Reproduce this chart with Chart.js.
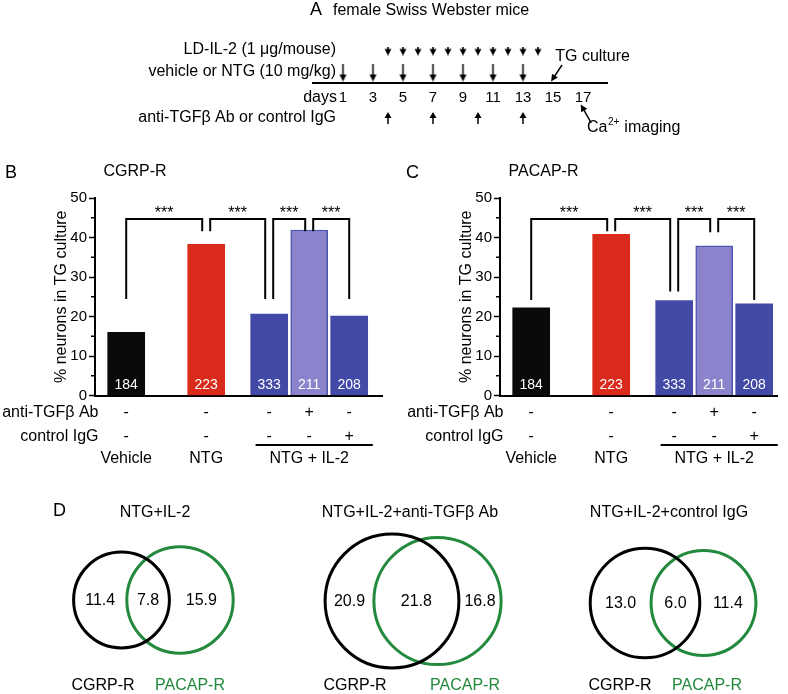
<!DOCTYPE html>
<html><head><meta charset="utf-8">
<script src="https://cdn.jsdelivr.net/npm/chart.js@4.4.1/dist/chart.umd.min.js"></script>
<style>
html,body{margin:0;padding:0;background:#fff;}
body{width:788px;height:694px;position:relative;overflow:hidden;}
.p{position:absolute;}
canvas{display:block;}
</style></head><body>
<div class="p" style="left:0;top:0;width:788px;height:140px"><canvas id="ca" width="788" height="140"></canvas></div>
<div class="p" style="left:0;top:150px;width:394px;height:325px"><canvas id="cb" width="394" height="325"></canvas></div>
<div class="p" style="left:394px;top:150px;width:394px;height:325px"><canvas id="cc" width="394" height="325"></canvas></div>
<div class="p" style="left:-80px;top:410px;width:948px;height:364px"><canvas id="cd" width="948" height="364"></canvas></div>
<script>
// ---------------- DATA ----------------
// Panel A: treatment schedule (days)
const dayTicks = [1, 3, 5, 7, 9, 11, 13, 15, 17];
const ldIl2Days = [4, 5, 6, 7, 8, 9, 10, 11, 12, 13, 14];
const ntgDays = [1, 3, 5, 7, 9, 11, 13];
const antiTgfDays = [4, 7, 10, 13];
const tgCultureDay = 15;
const caImagingDay = 17;

// Panels B and C
const groupLabels = ['Vehicle', 'NTG', 'NTG + IL-2'];
const cellCounts = ['184', '223', '333', '211', '208'];
const antiTgfRow = ['-', '-', '-', '+', '-'];
const controlIgGRow = ['-', '-', '-', '-', '+'];
const cgrpValues = [16.0, 38.3, 20.6, 41.9, 20.1];
const pacapValues = [22.2, 40.8, 24.0, 37.9, 23.2];
const yTickValues = [0, 10, 20, 30, 40, 50];
const sigPairs = [[0, 1], [1, 2], [2, 3], [3, 4]];
const sigLabels = ['***', '***', '***', '***'];
const sigTop = 44.7;
const cgrpLegEnds = [24.4, 41.6, 24.4, 41.6, 24.4];
const pacapLegEnds = [24.2, 41.6, 26.3, 41.3, 24.2];

// Panel D: Venn percentages
const vennTitles = ['NTG+IL-2', 'NTG+IL-2+anti-TGF\u03b2 Ab', 'NTG+IL-2+control IgG'];
const vennCgrpOnly = [11.4, 20.9, 13.0];
const vennBoth = [7.8, 21.8, 6.0];
const vennPacapOnly = [15.9, 16.8, 11.4];

// ---------------- LAYOUT / STYLE ----------------
const F = '"Liberation Sans", Arial, Helvetica, sans-serif';
Chart.defaults.font.family = F;
Chart.defaults.color = '#000';
Chart.defaults.animation = false;
const GREEN = '#23893d';
const barColors = ['#0a0a0a', '#da2a1c', '#4249a6', '#8b84cc', '#4249a6'];
const barBorders = ['#0a0a0a', '#da2a1c', '#4249a6', '#5055b0', '#4249a6'];
const barBorderW = [0, 0, 0, 1.5, 0];
const barSlot = [0.78, 2.78, 4.355, 5.355, 6.355]; // bar positions on x (slot units)
const legOff = 0.1;

function txt(ctx, s, x, y, o = {}) {
  ctx.save();
  ctx.font = `${o.weight || 'normal'} ${o.size || 16}px ${F}`;
  ctx.fillStyle = o.color || '#000';
  ctx.textAlign = o.align || 'left';
  ctx.textBaseline = o.base || 'middle';
  ctx.fillText(s, x, y);
  ctx.restore();
}
function arrow(ctx, x1, y1, x2, y2, hl = 7, hw = 3.5) {
  const a = Math.atan2(y2 - y1, x2 - x1);
  ctx.save();
  ctx.strokeStyle = '#000'; ctx.fillStyle = '#000'; ctx.lineWidth = 1.5;
  ctx.beginPath(); ctx.moveTo(x1, y1);
  ctx.lineTo(x2 - Math.cos(a) * hl * 0.8, y2 - Math.sin(a) * hl * 0.8); ctx.stroke();
  ctx.beginPath(); ctx.moveTo(x2, y2);
  ctx.lineTo(x2 - Math.cos(a) * hl + Math.sin(a) * hw, y2 - Math.sin(a) * hl - Math.cos(a) * hw);
  ctx.lineTo(x2 - Math.cos(a) * hl - Math.sin(a) * hw, y2 - Math.sin(a) * hl + Math.cos(a) * hw);
  ctx.closePath(); ctx.fill();
  ctx.restore();
}
function markImg(w, h, draw) {
  const c = document.createElement('canvas'); c.width = w; c.height = h;
  const g = c.getContext('2d'); g.fillStyle = '#000'; g.strokeStyle = '#000'; draw(g); return c;
}
const imgDown = markImg(9, 18, g => { g.lineWidth = 1.5; g.beginPath(); g.moveTo(4.5, 0); g.lineTo(4.5, 12); g.stroke();
  g.beginPath(); g.moveTo(1, 11); g.lineTo(8, 11); g.lineTo(4.5, 18); g.closePath(); g.fill(); });
const imgLd = markImg(8, 9, g => { g.lineWidth = 1.5; g.beginPath(); g.moveTo(4, 0); g.lineTo(4, 3); g.stroke();
  g.beginPath(); g.moveTo(0.5, 2.5); g.lineTo(7.5, 2.5); g.lineTo(4, 9); g.closePath(); g.fill(); });
const imgUp = markImg(8, 12, g => { g.lineWidth = 1.5; g.beginPath(); g.moveTo(4, 5); g.lineTo(4, 12); g.stroke();
  g.beginPath(); g.moveTo(4, 0); g.lineTo(0.5, 6); g.lineTo(7.5, 6); g.closePath(); g.fill(); });

// ---------------- PANEL A ----------------
const ROW = { ld: 3.2, ntg: 1.05, anti: -3.5 };
new Chart(document.getElementById('ca'), {
  type: 'scatter',
  data: { datasets: [
    { data: ldIl2Days.map(d => ({ x: d, y: ROW.ld })), pointStyle: imgLd, pointRadius: 5 },
    { data: ntgDays.map(d => ({ x: d, y: ROW.ntg })), pointStyle: imgDown, pointRadius: 5 },
    { data: antiTgfDays.map(d => ({ x: d, y: ROW.anti })), pointStyle: imgUp, pointRadius: 5 }
  ] },
  options: {
    responsive: false, events: [],
    layout: { padding: { left: 313, right: 181, top: 40, bottom: 10 } },
    plugins: { legend: { display: false }, tooltip: { enabled: false } },
    scales: {
      x: { type: 'linear', min: -1, max: 18.6, position: { y: 0 },
        afterBuildTicks: s => { s.ticks = dayTicks.map(v => ({ value: v })); },
        ticks: { autoSkip: false, maxRotation: 0, font: { size: 15 }, color: '#000', padding: 6 },
        grid: { display: false, drawTicks: false },
        border: { display: true, width: 2, color: '#000' } },
      y: { type: 'linear', min: -4.7, max: 4.3, display: false }
    }
  },
  plugins: [{
    id: 'schedText',
    afterDraw(chart) {
      const { ctx, scales: { x, y } } = chart;
      txt(ctx, 'A', 310, 10, { size: 18 });
      txt(ctx, 'female Swiss Webster mice', 333, 11);
      txt(ctx, 'LD-IL-2 (1 \u03bcg/mouse)', 336, y.getPixelForValue(ROW.ld) - 1.5, { align: 'right' });
      txt(ctx, 'vehicle or NTG (10 mg/kg)', 336, y.getPixelForValue(ROW.ntg) - 1, { align: 'right' });
      txt(ctx, 'anti-TGF\u03b2 Ab or control IgG', 336, y.getPixelForValue(ROW.anti), { align: 'right' });
      txt(ctx, 'days', 337, y.getPixelForValue(0) + 15, { align: 'right' });
      // TG culture
      txt(ctx, 'TG culture', x.getPixelForValue(tgCultureDay + 0.15), y.getPixelForValue(2.6));
      arrow(ctx, x.getPixelForValue(tgCultureDay + 0.6), y.getPixelForValue(1.8), x.getPixelForValue(tgCultureDay - 0.13), y.getPixelForValue(0.15));
      // Ca2+ imaging
      const cx = x.getPixelForValue(caImagingDay + 0.27), cy = y.getPixelForValue(-4.5);
      ctx.save(); ctx.font = `16px ${F}`; const w1 = ctx.measureText('Ca').width; ctx.font = `10px ${F}`; const w2 = ctx.measureText('2+').width; ctx.restore();
      txt(ctx, 'Ca', cx, cy);
      txt(ctx, '2+', cx + w1 + 0.5, cy - 6, { size: 10 });
      txt(ctx, ' imaging', cx + w1 + w2 + 1, cy);
      arrow(ctx, x.getPixelForValue(caImagingDay + 0.55), y.getPixelForValue(-4.0), x.getPixelForValue(caImagingDay - 0.15), y.getPixelForValue(-2.15));
    }
  }]
});

// ---------------- PANELS B, C ----------------
function legX(i, side) {
  const asLeft = sigPairs.some(p => p[0] === i), asRight = sigPairs.some(p => p[1] === i);
  if (asLeft && asRight) return barSlot[i] + (side === 'L' ? legOff : -legOff);
  return barSlot[i];
}
function barPanel(id, values, legEnds, letter, title, opt) {
  const datasets = [{
    type: 'bar', data: values.map((v, i) => ({ x: barSlot[i], y: v })),
    backgroundColor: barColors, borderColor: barBorders, borderWidth: barBorderW,
    barThickness: 37, borderSkipped: 'start', order: 2
  }];
  sigPairs.forEach(([a, b]) => {
    const xa = legX(a, 'L'), xb = legX(b, 'R');
    datasets.push({ type: 'line', data: [{ x: xa, y: legEnds[a] }, { x: xa, y: sigTop }, { x: xb, y: sigTop }, { x: xb, y: legEnds[b] }],
      borderColor: '#000', borderWidth: 2, pointRadius: 0, fill: false, tension: 0,
      borderJoinStyle: 'miter', borderCapStyle: 'butt', order: 1 });
  });
  new Chart(document.getElementById(id), {
    type: 'bar',
    data: { datasets },
    options: {
      responsive: false, events: [],
      layout: { padding: { left: opt.padLeft, right: opt.padRight, top: 48, bottom: 79.5 } },
      plugins: { legend: { display: false }, tooltip: { enabled: false } },
      scales: {
        x: { type: 'linear', min: 0, max: opt.xMax, offset: false,
          ticks: { display: false }, grid: { display: false, drawTicks: false },
          border: { display: true, width: 2, color: '#000' },
          afterFit: s => { s.height = 0; } },
        y: { type: 'linear', min: 0, max: 50,
          afterBuildTicks: s => { s.ticks = yTickValues.map(v => ({ value: v })); },
          ticks: { font: { size: 15 }, color: '#000', padding: 2 },
          grid: { display: true, drawOnChartArea: false, drawTicks: true, tickLength: 6, tickWidth: 1.5, tickColor: '#000' },
          border: { display: true, width: 2, color: '#000' },
          title: { display: true, text: '% neurons in TG culture', font: { size: 16 }, color: '#000', padding: { top: 4, bottom: 0 } },
          afterFit: s => { s.width = 47; } }
      }
    },
    plugins: [{
      id: 'panelText',
      afterDraw(chart) {
        const { ctx, scales: { x, y } } = chart;
        const ax = chart.chartArea.left, base = y.getPixelForValue(0);
        txt(ctx, letter, opt.letterX, 23, { size: 18 });
        txt(ctx, title, ax + 8.5, 22);
        // minor ticks
        ctx.save(); ctx.strokeStyle = '#000'; ctx.lineWidth = 1.5;
        for (let v = 5; v < 50; v += 10) { const py = y.getPixelForValue(v); ctx.beginPath(); ctx.moveTo(ax - 4, py); ctx.lineTo(ax, py); ctx.stroke(); }
        ctx.restore();
        // counts inside bars
        cellCounts.forEach((c, i) => txt(ctx, c, x.getPixelForValue(barSlot[i]), base - 10.5, { size: 14, color: '#fff', align: 'center' }));
        // significance stars
        sigPairs.forEach(([a, b], k) => {
          const mx = (x.getPixelForValue(legX(a, 'L')) + x.getPixelForValue(legX(b, 'R'))) / 2;
          txt(ctx, sigLabels[k], mx, y.getPixelForValue(sigTop) - 0.5, { align: 'center', base: 'alphabetic' });
        });
        // treatment table
        txt(ctx, 'anti-TGF\u03b2 Ab', ax + 3.5, base + 17.5, { align: 'right' });
        txt(ctx, 'control IgG', ax + 3.5, base + 41.5, { align: 'right' });
        antiTgfRow.forEach((s, i) => txt(ctx, s, x.getPixelForValue(barSlot[i]), base + 17.5, { align: 'center' }));
        controlIgGRow.forEach((s, i) => txt(ctx, s, x.getPixelForValue(barSlot[i]), base + 41.5, { align: 'center' }));
        ctx.save(); ctx.strokeStyle = '#000'; ctx.lineWidth = 2; ctx.beginPath();
        ctx.moveTo(x.getPixelForValue(barSlot[2] - 0.34), base + 49.5); ctx.lineTo(x.getPixelForValue(barSlot[4] + 0.59), base + 49.5); ctx.stroke(); ctx.restore();
        txt(ctx, groupLabels[0], x.getPixelForValue(barSlot[0]), base + 63, { align: 'center' });
        txt(ctx, groupLabels[1], x.getPixelForValue(barSlot[1]), base + 63, { align: 'center' });
        txt(ctx, groupLabels[2], x.getPixelForValue(barSlot[3]), base + 63, { align: 'center' });
      }
    }]
  });
}
barPanel('cb', cgrpValues, cgrpLegEnds, 'B', 'CGRP-R', { padLeft: 48, padRight: 12, xMax: 7.175, letterX: 5 });
barPanel('cc', pacapValues, pacapLegEnds, 'C', 'PACAP-R', { padLeft: 59, padRight: 11, xMax: 6.925, letterX: 12 });

// ---------------- PANEL D ----------------
// Canvas is larger than the panel by 80px each side; padding 80 makes chart area = panel (788x204).
const vennK = [10.93, 10.24, 12.57];           // radius scale per diagram (px per sqrt %)
const vennCx = [[121.5, 180], [392, 437.5], [645, 703.5]];
const vennCy = [110, 111, 113];
const vennTitleX = [155, 410, 669];
const vennLabelX = [[103, 190], [355, 465], [620, 707]];
const vennR = [0, 1, 2].map(i => [
  vennK[i] * Math.sqrt(vennCgrpOnly[i] + vennBoth[i]),
  vennK[i] * Math.sqrt(vennPacapOnly[i] + vennBoth[i])
]);
const dSets = [];
[0, 1, 2].forEach(i => {
  dSets.push({ data: [{ x: vennCx[i][0], y: vennCy[i], r: vennR[i][0] }], borderColor: '#000', backgroundColor: 'rgba(0,0,0,0)', borderWidth: 3, clip: false });
  dSets.push({ data: [{ x: vennCx[i][1], y: vennCy[i], r: vennR[i][1] }], borderColor: GREEN, backgroundColor: 'rgba(0,0,0,0)', borderWidth: 3, clip: false });
});
new Chart(document.getElementById('cd'), {
  type: 'bubble',
  data: { datasets: dSets },
  options: {
    responsive: false, events: [],
    layout: { padding: 80 },
    plugins: { legend: { display: false }, tooltip: { enabled: false } },
    scales: {
      x: { type: 'linear', min: 0, max: 788, display: false },
      y: { type: 'linear', min: 0, max: 204, reverse: true, display: false }
    }
  },
  plugins: [{
    id: 'vennText',
    afterDraw(chart) {
      const { ctx, scales: { x, y } } = chart;
      txt(ctx, 'D', x.getPixelForValue(53), y.getPixelForValue(21), { size: 18 });
      [0, 1, 2].forEach(i => {
        txt(ctx, vennTitles[i], x.getPixelForValue(vennTitleX[i]), y.getPixelForValue(23), { align: 'center' });
        const bl = x.getPixelForValue(vennCx[i][0]) - vennR[i][0], br = x.getPixelForValue(vennCx[i][0]) + vennR[i][0];
        const gl = x.getPixelForValue(vennCx[i][1]) - vennR[i][1], gr = x.getPixelForValue(vennCx[i][1]) + vennR[i][1];
        const cy = y.getPixelForValue(vennCy[i]) + 1;
        txt(ctx, vennCgrpOnly[i].toFixed(1), (bl + gl) / 2, cy, { align: 'center' });
        txt(ctx, vennBoth[i].toFixed(1), (gl + br) / 2, cy, { align: 'center' });
        txt(ctx, vennPacapOnly[i].toFixed(1), (br + gr) / 2, cy, { align: 'center' });
        txt(ctx, 'CGRP-R', x.getPixelForValue(vennLabelX[i][0]), y.getPixelForValue(196), { align: 'center' });
        txt(ctx, 'PACAP-R', x.getPixelForValue(vennLabelX[i][1]), y.getPixelForValue(196), { align: 'center', color: GREEN });
      });
    }
  }]
});
</script>
</body></html>
